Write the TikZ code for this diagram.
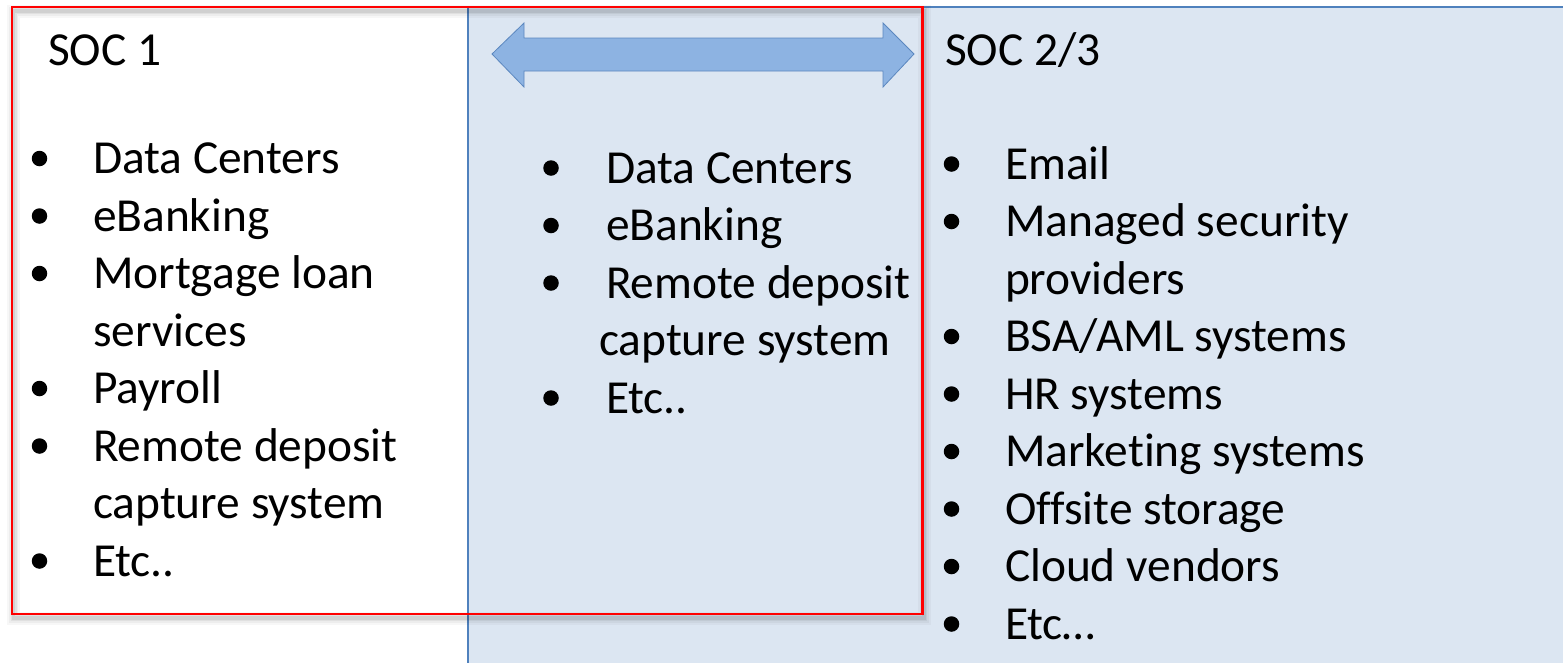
\documentclass[tikz,border=0pt]{standalone}
\usepackage{fontspec}
\setmainfont{Carlito}[Ligatures={NoCommon}]
\usetikzlibrary{calc}
\definecolor{panelfill}{HTML}{DCE6F2}
\definecolor{paneledge}{HTML}{4F81BD}
\definecolor{arrowfill}{HTML}{8DB3E2}
\definecolor{arrowedge}{HTML}{5B87BF}
\definecolor{scopered}{HTML}{FF0000}
\tikzset{
  itemtext/.style={anchor=base west, inner sep=0pt, outer sep=0pt,
    font=\fontsize{47.4}{57}\selectfont},
  bulletdot/.style={circle, fill=black, minimum size=15.5pt, inner sep=0pt},
}
\begin{document}
\begin{tikzpicture}[x=1pt,y=-1pt]
\useasboundingbox (0,0) rectangle (1563,662);
\clip (0,0) rectangle (1563,662);
\fill[white] (0,0) rectangle (1563,662);

% SOC 2/3 panel (runs off the right and bottom)
\coordinate (pNW) at (467.5,7);
\coordinate (pSE) at (1600,700);
\filldraw[fill=panelfill, draw=paneledge, line width=2pt] (pNW) rectangle (pSE);

% two-way arrow between the scopes
\filldraw[fill=arrowfill, draw=arrowedge, line width=0.8pt]
  (492,54) -- (524,23) -- (524,38) -- (883,38) -- (883,23) -- (914,54)
  -- (883,87) -- (883,71) -- (524,71) -- (524,87) -- cycle;

% soft shadow of the SOC 1 outline
\coordinate (rNW) at (12,7);
\coordinate (rSE) at (922.5,614);
\foreach \w/\o in {13/0.03, 9/0.04, 6/0.05, 3.5/0.07}
  \draw[black, opacity=\o, line width=\w pt]
    ($(rNW)+(1.5,4)$) rectangle ($(rSE)+(1.5,4)$);
% SOC 1 outline
\draw[scopered, line width=2.2pt] (rNW) rectangle (rSE);

% headings
\node[itemtext] (h1) at (48,65) {SOC 1};
\node[itemtext] (h2) at (945,65) {SOC 2/3};

% SOC 1 list
\foreach \t/\y/\b [count=\i] in {
  Data Centers/173.5/1, eBanking/231/1, Mortgage loan/288.5/1,
  services/346/0, Payroll/403.5/1, Remote deposit/461/1,
  capture system/518.5/0, Etc../576/1} {
  \node[itemtext] (l\i) at (93,\y) {\t};
  \ifnum\b=1 \node[bulletdot] (lb\i) at (39.5,\y-15) {}; \fi
}

% shared list
\foreach \t/\y/\x/\b [count=\i] in {
  Data Centers/183/606/1, eBanking/240.5/606/1, Remote deposit/298/606/1,
  capture system/355.5/599/0, Etc../413/606/1} {
  \node[itemtext] (m\i) at (\x,\y) {\t};
  \ifnum\b=1 \node[bulletdot] (mb\i) at (551,\y-15) {}; \fi
}

% SOC 2/3 list
\foreach \t/\y/\b [count=\i] in {
  Email/179/1, Managed security/236.5/1, providers/294/0,
  {BSA/AML systems}/351.5/1, HR systems/409/1, Marketing systems/466.5/1,
  Offsite storage/524/1, Cloud vendors/581.5/1, Etc…/639/1} {
  \node[itemtext] (r\i) at (1005,\y) {\t};
  \ifnum\b=1 \node[bulletdot] (rb\i) at (951.5,\y-15) {}; \fi
}
\end{tikzpicture}
\end{document}
